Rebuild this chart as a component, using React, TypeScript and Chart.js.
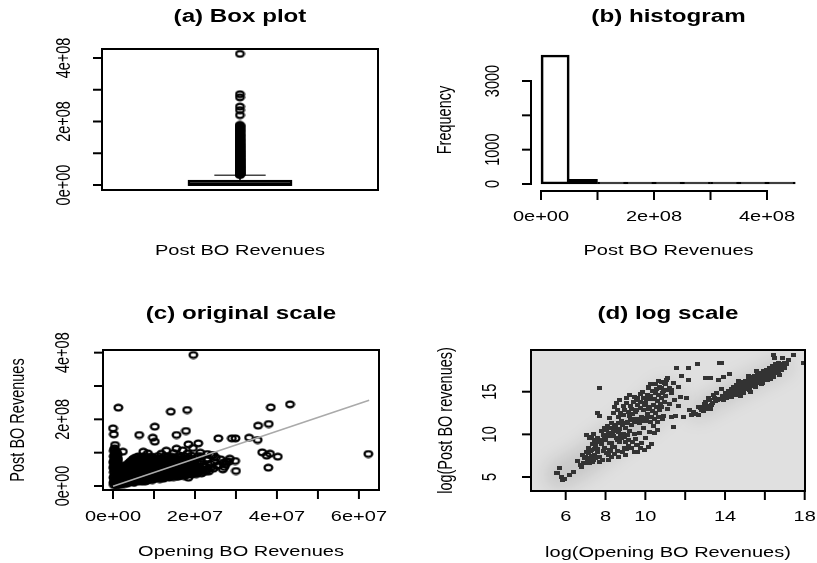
import React, { useEffect, useRef } from 'react';
import { Chart, registerables } from 'chart.js';

Chart.register(...registerables);

// ---------------- DATA ----------------
// (a) box plot of Post BO Revenues (millions)
const boxFiveNumber = [0, 0.5, 3, 12.5, 31]; // lower whisker, Q1, median, Q3, upper whisker
const boxOutliers = [32, 33, 34, 35, 36, 37.5, 39, 40, 41, 42.5, 44, 45, 46, 47.5, 49, 50.5, 52, 53.5, 55, 56, 57, 58.5, 60, 61.5, 63, 64.5, 66, 67.5, 69, 70.5, 72, 73.5, 75, 76.5, 78, 79.5, 81, 82.5, 84, 86, 88, 89.5, 91, 92.5, 94, 96, 98, 99.5, 101, 103, 105, 106.5, 108, 110, 112, 114, 116, 118, 120, 122, 124, 126, 128, 130, 132, 134.5, 137, 139, 141, 143.5, 146, 148.5, 151, 153.5, 156, 158.5, 161, 164, 167, 169.5, 172, 175, 178, 181, 184, 186.5, 189, 220, 236, 247, 276, 286, 413];
const boxYTicks = [0, 100, 200, 300, 400];
const boxYLabels = ['0e+00', '', '2e+08', '', '4e+08'];

// (b) histogram (bin edges in millions)
const histBinEdges = [0, 50, 100, 150, 200, 250, 300, 350, 400, 450];
const histCounts = [3758, 136, 30, 14, 4, 3, 0, 0, 1];
const histXTicks = [0, 100, 200, 300, 400];
const histXLabels = ['0e+00', '', '2e+08', '', '4e+08'];
const histYTicks = [0, 1000, 2000, 3000];
const histYLabels = ['0', '1000', '', '3000'];

// (c) original scale: [opening (millions), post (millions)]
const originalScalePoints: [number, number][] = [
  [0.2, 3], [0.9, 2], [1.6, 4],
  [0.5, 6], [1.2, 7], [2.0, 5], [2.7, 6], [3.4, 7],
  [0.1, 10], [0.8, 9], [1.5, 11], [2.3, 9], [3.1, 10], [4.0, 11], [5.0, 10],
  [0.3, 13], [1.0, 14], [1.9, 13], [2.7, 12], [3.5, 14], [4.4, 13], [5.3, 12], [6.2, 14], [7.1, 13], [7.9, 14],
  [0.4, 17], [1.2, 16], [2.0, 18], [2.9, 17], [3.8, 16], [4.7, 18], [5.6, 17], [6.5, 16], [7.4, 18], [8.5, 17], [9.6, 18],
  [0.6, 21], [1.5, 20], [2.4, 22], [3.3, 21], [4.2, 20], [5.1, 22], [6.0, 21], [6.9, 20], [7.8, 22], [8.7, 21], [9.6, 20], [10.5, 22], [11.4, 21], [12.3, 22],
  [0.1, 25], [0.9, 24], [1.7, 26], [2.6, 25], [3.5, 24], [4.4, 26], [5.3, 25], [6.2, 24], [7.1, 26], [8.0, 25], [8.9, 24], [9.8, 26], [10.7, 25], [11.6, 24], [12.6, 26], [13.7, 25], [14.8, 27], [15.9, 28],
  [0.3, 29], [1.2, 28], [2.1, 30], [3.0, 29], [3.9, 28], [4.8, 30], [5.7, 29], [6.6, 28], [7.5, 30], [8.4, 29], [9.3, 28], [10.2, 30], [11.1, 29], [12.0, 28], [12.9, 30], [13.8, 29], [14.7, 30], [15.6, 30], [16.5, 31], [17.4, 30],
  [0.5, 33], [1.3, 32], [2.2, 34], [3.1, 33], [4.0, 32], [4.9, 34], [5.8, 33], [6.7, 32], [7.6, 34], [8.5, 33], [9.4, 32], [10.3, 34], [11.2, 33], [12.1, 32], [13.0, 34], [13.9, 33], [14.8, 32], [15.7, 34], [16.6, 33], [17.5, 32], [18.4, 34], [19.3, 35], [20.3, 36],
  [0.7, 37], [1.6, 36], [2.5, 38], [3.4, 37], [4.3, 36], [5.2, 38], [6.1, 37], [7.0, 36], [7.9, 38], [8.8, 37], [9.7, 36], [10.6, 38], [11.5, 37], [12.4, 36], [13.3, 38], [14.2, 37], [15.1, 36], [16.0, 38], [16.9, 37], [17.8, 36], [18.7, 38], [19.6, 37], [20.6, 39], [21.6, 38],
  [0.2, 41], [1.0, 40], [1.9, 42], [2.8, 41], [3.7, 40], [4.6, 42], [5.5, 41], [6.4, 40], [7.3, 42], [8.2, 41], [9.1, 40], [10.0, 42], [10.9, 41], [11.8, 40], [12.7, 42], [13.6, 41], [14.5, 40], [15.4, 42], [16.3, 41], [17.2, 40], [18.1, 42], [19.0, 41], [19.9, 40], [20.9, 43], [22.0, 42], [23.4, 44],
  [0.3, 45], [1.2, 44], [2.1, 46], [3.0, 45], [3.9, 44], [4.8, 46], [5.7, 45], [6.6, 44], [7.5, 46], [8.4, 45], [9.3, 44], [10.2, 46], [11.1, 45], [12.0, 44], [12.9, 46], [13.8, 45], [14.7, 44], [15.6, 46], [16.5, 45], [17.4, 44], [18.3, 46], [19.2, 45], [20.1, 44], [21.2, 46], [22.8, 45],
  [0.6, 49], [1.4, 48], [2.3, 50], [3.3, 49], [4.3, 48], [5.2, 50], [6.1, 49], [7.0, 48], [7.9, 50], [8.8, 49], [9.7, 48], [10.6, 50], [11.5, 49], [12.4, 48], [13.3, 50], [14.2, 49], [15.1, 48], [16.0, 50], [16.9, 49], [17.8, 48], [18.7, 50], [19.6, 49], [20.6, 51], [21.8, 50], [24.5, 52], [26.8, 50],
  [0.2, 53], [1.1, 52], [2.0, 54], [2.9, 53], [3.8, 52], [4.7, 54], [5.6, 53], [6.5, 52], [7.4, 54], [8.3, 53], [9.2, 52], [10.1, 54], [11.0, 53], [11.9, 52], [12.8, 54], [13.7, 53], [14.6, 52], [15.5, 54], [16.4, 53], [17.3, 52], [18.2, 54], [19.1, 53], [20.0, 52], [21.0, 54], [23.2, 53],
  [0.1, 57], [0.9, 56], [1.8, 58], [3.0, 57], [4.1, 56], [5.0, 58], [5.9, 57], [6.8, 56], [7.7, 58], [8.6, 57], [9.5, 56], [10.4, 58], [11.3, 57], [12.2, 56], [13.1, 58], [14.0, 57], [14.9, 56], [15.8, 58], [16.7, 57], [17.6, 56], [18.5, 58], [19.4, 57], [20.4, 59], [22.6, 58], [25.3, 60],
  [0.5, 61], [1.3, 60], [2.2, 61], [3.3, 62], [4.4, 61], [5.3, 60], [6.2, 62], [7.1, 61], [8.0, 60], [8.9, 62], [9.8, 61], [10.7, 60], [11.6, 62], [12.5, 61], [13.4, 60], [14.3, 62], [15.2, 61], [16.1, 60], [17.0, 62], [17.9, 61], [18.8, 60], [19.7, 62], [21.9, 61],
  [0.4, 65], [1.2, 64], [3.6, 66], [4.6, 65], [5.5, 64], [6.4, 66], [7.3, 65], [8.2, 64], [9.1, 66], [10.0, 65], [10.9, 64], [11.8, 66], [12.7, 65], [13.6, 64], [14.5, 66], [15.4, 65], [16.3, 64], [17.2, 66], [18.1, 65], [19.0, 64], [20.0, 66], [21.2, 67], [23.8, 66], [27.5, 65],
  [0.2, 69], [1.0, 68], [4.0, 70], [4.9, 69], [5.8, 68], [6.7, 70], [7.6, 69], [8.5, 68], [9.4, 70], [10.3, 69], [11.2, 68], [12.1, 70], [13.0, 69], [13.9, 68], [14.8, 70], [15.7, 69], [16.6, 68], [17.5, 70], [18.4, 69], [19.3, 68], [20.5, 70],
  [0.1, 73], [0.9, 72], [4.3, 74], [5.1, 73], [6.0, 72], [6.9, 74], [7.8, 73], [8.7, 72], [9.6, 74], [10.5, 73], [11.4, 72], [12.3, 74], [13.2, 73], [14.1, 72], [15.0, 74], [15.9, 73], [16.8, 72], [17.7, 74], [18.6, 73], [19.6, 75], [21.5, 74], [24.8, 72], [28.3, 73],
  [0.4, 77], [1.1, 76], [4.7, 78], [5.6, 77], [6.5, 76], [7.4, 78], [8.3, 77], [9.2, 76], [10.1, 78], [11.0, 77], [11.9, 76], [12.8, 78], [13.7, 77], [14.6, 76], [15.5, 78], [16.4, 77], [17.3, 76], [18.2, 78], [19.2, 77],
  [0.5, 81], [1.2, 80], [5.0, 82], [6.0, 81], [7.0, 80], [8.2, 82], [9.3, 81], [10.4, 80], [11.4, 82], [12.5, 81], [13.5, 80], [14.6, 82], [15.7, 81], [16.8, 80], [17.9, 82], [19.0, 81], [20.2, 83], [23.0, 82], [26.3, 80],
  [0.3, 85], [1.0, 84], [5.6, 86], [6.8, 85], [8.0, 84], [9.0, 86], [10.0, 85], [11.9, 84], [13.2, 86], [14.0, 85], [15.2, 84], [16.4, 86], [18.5, 85],
  [0.2, 89], [0.9, 88], [6.2, 89], [7.8, 90], [9.4, 88], [11.0, 90], [12.6, 89], [14.3, 88], [15.9, 90], [17.5, 89], [19.1, 91], [20.8, 90], [24.0, 92],
  [0.4, 93], [1.0, 92], [0.5, 97], [1.1, 96], [8.5, 98], [11.8, 97], [14.8, 99], [18.2, 98], [21.3, 100],
  [0.7, 101], [0.2, 105], [0.8, 104], [13.0, 106], [17.0, 107], [0.3, 109], [0.4, 113], [15.5, 112], [19.5, 114],
  [22.5, 47], [23.9, 55], [25.8, 62], [26.9, 70], [28.5, 82], [22.9, 78], [25.1, 85], [27.2, 57], [21.6, 88], [23.0, 96],
  [19.6, 393], [1.3, 235], [14.1, 223], [18.1, 228], [0.0, 173], [0.2, 155], [10.2, 178], [6.4, 153], [9.7, 145], [15.5, 153], [17.8, 165], [10.2, 133], [25.7, 143], [29.0, 143], [0.5, 123], [2.4, 103], [7.4, 103], [18.4, 125], [20.8, 128], [18.4, 25], [27.7, 73], [30.0, 45], [24.5, 93],
  [38.5, 236], [43.2, 245], [35.4, 181], [38.0, 186], [33.2, 145], [35.3, 138], [29.9, 143], [36.4, 101], [38.3, 97], [37.5, 91], [40.2, 88], [37.9, 55], [29.8, 75], [62.3, 96],
];
const fitLineX = [0, 62.5];
const fitLineY = [-1, 257];
const origXTicks = [0, 10, 20, 30, 40, 50, 60];
const origXLabels = ['0e+00', '', '2e+07', '', '4e+07', '', '6e+07'];
const origYTicks = [0, 100, 200, 300, 400];
const origYLabels = ['0e+00', '', '2e+08', '', '4e+08'];

// (d) log scale: [log opening, log post]
const logScalePoints: [number, number][] = [
  [5.53, 5.51], [5.61, 5.43], [5.70, 6.02], [5.78, 5.04], [5.86, 4.65], [5.95, 4.77], [6.20, 5.23], [6.37, 5.62],
  [6.74, 6.37], [6.78, 6.21], [6.90, 6.60], [7.03, 6.60], [6.95, 7.19], [7.10, 7.10], [7.20, 7.19], [7.37, 6.79], [7.30, 7.50], [7.12, 7.78], [7.46, 7.58], [7.50, 7.20], [7.62, 7.97], [7.71, 7.38], [7.71, 6.79], [7.87, 7.00], [7.60, 8.30], [7.90, 8.10], [7.96, 8.36], [8.04, 7.78], [8.13, 7.00], [8.13, 7.58], [8.21, 8.17], [8.29, 7.38], [8.29, 8.95], [8.35, 8.50], [8.46, 8.55], [8.54, 9.54], [8.71, 9.14], [8.60, 9.30], [8.63, 10.31], [8.38, 10.51], [8.13, 10.12], [7.03, 9.92], [7.20, 9.54], [7.46, 9.34], [7.29, 9.72], [7.40, 10.10], [7.80, 10.40], [7.96, 10.71], [7.30, 8.20], [7.50, 8.60], [7.80, 8.90], [7.60, 9.60], [7.90, 9.90], [8.00, 9.30], [8.20, 9.00], [8.40, 9.80], [8.10, 11.00], [8.30, 11.30], [8.50, 10.90], [8.70, 10.60], [8.80, 11.60], [8.90, 12.30], [8.60, 12.80], [8.63, 12.07], [8.40, 12.50], [8.20, 11.90], [8.80, 9.60], [9.00, 9.10], [8.96, 8.36], [9.00, 7.60], [8.60, 8.00], [9.30, 8.40], [9.15, 8.60], [9.10, 9.90], [8.90, 10.10], [9.20, 10.40], [9.00, 10.80], [9.30, 11.10], [9.10, 11.50], [9.40, 11.80], [9.20, 12.20], [9.50, 12.60], [9.30, 13.00], [8.90, 13.30], [9.60, 13.40], [9.40, 13.80], [9.70, 10.20], [9.45, 10.00], [9.50, 9.50], [9.60, 8.70], [9.63, 7.97], [9.47, 7.96], [9.80, 9.00], [9.90, 10.70], [9.70, 11.30], [10.00, 11.60], [9.80, 12.00], [10.10, 12.40], [9.90, 12.90], [10.20, 13.20], [10.00, 13.70], [10.30, 14.10], [10.10, 14.60], [9.90, 14.30], [9.20, 14.60], [9.63, 14.23], [10.14, 15.40], [10.14, 15.60], [10.00, 9.60], [10.20, 10.30], [10.30, 8.90], [10.14, 8.55], [10.47, 10.12], [10.60, 10.50], [10.40, 11.00], [10.60, 11.40], [10.30, 12.00], [10.50, 12.50], [10.70, 12.90], [10.40, 13.50], [10.60, 13.90], [10.80, 14.30], [10.50, 14.80], [10.90, 15.10], [10.70, 15.60], [10.80, 15.40], [10.50, 15.90], [10.80, 16.17], [11.00, 15.90], [11.06, 16.37], [10.90, 12.10], [10.80, 13.24], [11.10, 13.00], [11.20, 13.60], [11.00, 14.50], [11.30, 14.90], [11.30, 15.20], [11.20, 15.40], [11.40, 16.00], [11.10, 16.60], [11.48, 14.02], [11.30, 12.07], [11.40, 10.90],
  [7.15, 8.45], [7.35, 8.85], [7.55, 9.10], [7.75, 9.35], [7.95, 9.60], [8.15, 9.85], [8.35, 10.15], [8.55, 10.40], [8.75, 10.05], [8.95, 9.70], [9.15, 9.35], [9.35, 9.05], [9.55, 8.80], [9.75, 8.45], [9.95, 8.20], [8.25, 8.05], [8.45, 7.65], [8.65, 7.30], [8.85, 7.95], [9.05, 8.25],
  [8.05, 10.55], [8.25, 10.70], [8.45, 11.05], [8.65, 11.30], [8.85, 11.10], [9.05, 11.35], [9.25, 11.70], [9.45, 11.50], [9.65, 11.85], [9.85, 11.60], [10.05, 11.90], [10.25, 11.45], [10.45, 11.75], [10.65, 12.05], [10.85, 11.80],
  [8.75, 12.55], [8.95, 12.85], [9.15, 12.60], [9.35, 12.35], [9.55, 12.85], [9.75, 13.10], [9.95, 13.40], [10.15, 13.00], [10.35, 12.70], [10.55, 13.20], [10.75, 13.55], [10.95, 13.80], [9.05, 13.70], [9.25, 13.35], [9.55, 14.00], [9.75, 13.75], [10.05, 14.20], [10.25, 14.45], [10.45, 14.20], [10.65, 14.60], [10.85, 14.85], [11.05, 15.20], [10.35, 15.05], [10.55, 15.30], [10.25, 15.95], [10.65, 16.30], [10.95, 16.00], [9.85, 15.00], [9.45, 14.40], [9.75, 14.75],
  [6.85, 7.55], [7.05, 7.90], [7.25, 8.00], [7.45, 8.25], [6.60, 6.85], [7.00, 7.35], [7.40, 6.95], [7.20, 6.60],
  [7.71, 15.47], [7.62, 12.47], [7.71, 12.19], [8.46, 13.24], [8.54, 13.64], [8.71, 14.03], [9.05, 14.23],
  [11.58, 17.81], [12.16, 17.81], [12.61, 18.21], [13.84, 18.33], [13.74, 18.40], [11.79, 16.88], [13.00, 16.57], [13.25, 16.57], [13.67, 16.37], [13.92, 16.76], [14.22, 17.04], [12.16, 16.37], [11.66, 15.59], [11.74, 14.41], [12.08, 14.22], [11.66, 13.36], [11.91, 12.07], [11.49, 12.19],
  [12.66, 12.27], [12.75, 13.05], [12.91, 13.24], [13.00, 13.83], [13.17, 14.23], [13.42, 14.61], [13.59, 14.81], [13.92, 14.03], [14.09, 14.23], [12.40, 12.60], [12.20, 12.90], [12.90, 12.70], [13.10, 13.00], [13.30, 13.50], [13.50, 13.90], [13.70, 14.20], [13.85, 14.50], [13.20, 14.00], [12.67, 13.24], [13.80, 15.30],
  [12.50, 12.40], [12.80, 12.90], [13.05, 13.30], [13.35, 13.70], [13.60, 14.05], [13.90, 14.35], [12.95, 13.60], [13.45, 14.25], [13.25, 12.95], [12.30, 12.25],
  [14.00, 14.30], [14.00, 14.90], [14.15, 14.60], [14.15, 15.10], [14.30, 14.40], [14.30, 14.90], [14.30, 15.30], [14.45, 14.70], [14.45, 15.20], [14.45, 15.60], [14.60, 14.90], [14.60, 15.40], [14.60, 15.80], [14.75, 14.80], [14.75, 15.50], [14.75, 16.00], [14.90, 15.10], [14.90, 15.60], [14.90, 16.10], [15.05, 15.30], [15.05, 15.80], [15.05, 16.30], [15.20, 15.50], [15.20, 16.00], [15.20, 16.50], [15.35, 15.70], [15.35, 16.20], [15.35, 16.70], [15.50, 15.90], [15.50, 16.40], [15.50, 16.80], [15.65, 16.00], [15.65, 16.50], [15.65, 17.00], [15.80, 16.30], [15.80, 16.80], [15.80, 17.20], [15.95, 16.40], [15.95, 16.90], [15.95, 17.40], [16.10, 16.60], [16.10, 17.10], [16.10, 17.60], [16.25, 16.80], [16.25, 17.30], [16.25, 17.80], [16.40, 17.00], [16.40, 17.50], [16.40, 18.00], [16.55, 17.20], [16.55, 17.70], [16.55, 18.20], [16.70, 17.40], [16.70, 17.90], [16.70, 18.40], [16.85, 17.60], [16.85, 18.10], [17.00, 17.80], [17.00, 18.40],
  [14.10, 14.45], [14.25, 15.05], [14.40, 14.95], [14.55, 15.10], [14.70, 15.25], [14.85, 15.40], [15.00, 15.55], [15.15, 15.75], [15.30, 15.95], [15.45, 16.15], [15.60, 16.30], [15.75, 16.55], [15.90, 16.70], [16.05, 16.85], [16.20, 17.05], [16.35, 17.25], [16.50, 17.45], [16.65, 17.65], [16.80, 17.85], [16.95, 18.05], [17.10, 18.20], [14.20, 14.75], [14.50, 15.45], [14.80, 15.80], [15.10, 16.15], [15.40, 16.45], [15.70, 16.75], [16.00, 17.15], [16.30, 17.45], [16.60, 17.95], [16.90, 18.25], [14.55, 14.60], [14.95, 14.85], [15.25, 15.25], [15.55, 15.55], [15.85, 15.85], [16.15, 16.35], [16.45, 16.70], [16.75, 17.00],
  [16.42, 19.30], [16.50, 19.00], [17.44, 19.30], [17.94, 18.33], [17.20, 18.70], [16.90, 18.90], [15.60, 17.40], [15.20, 16.90], [14.70, 16.30], [15.90, 16.00], [16.30, 16.50], [14.80, 14.50], [15.30, 15.00],
];
const densityRidgeLow: [number, number][] = [[5.7, 5.3], [6.9, 6.8], [8.0, 8.8], [9.2, 10.8], [10.3, 12.8], [11.0, 14.4]];
const densityRidgeHigh: [number, number][] = [[12.6, 12.8], [14.0, 14.6], [15.5, 16.4], [16.9, 18.1]];
const logXTicks = [6, 8, 10, 12, 14, 16, 18];
const logXLabels = ['6', '8', '10', '', '14', '', '18'];
const logYTicks = [5, 10, 15];
const logYLabels = ['5', '10', '15'];

// ---------------- STYLE ----------------
const FONT = '"Liberation Sans", Arial, Helvetica, sans-serif';
const SX = 1.38;
const FS = 14.5;
const TFS = 17.5;
const LW = 2;
const TICK = 9;

function drawText(ctx: CanvasRenderingContext2D, s: string, x: number, y: number, size: number, bold: boolean, vertical: boolean) {
  ctx.save();
  ctx.translate(x, y);
  ctx.scale(SX, 1);
  if (vertical) ctx.rotate(-Math.PI / 2);
  ctx.font = `${bold ? 'bold ' : ''}${size}px ${FONT}`;
  ctx.fillStyle = '#000';
  ctx.textAlign = 'center';
  ctx.textBaseline = 'middle';
  ctx.fillText(s, 0, 0);
  ctx.restore();
}

type AxisDef = { ticks: number[]; labels: string[]; labelPos: number };
type PanelDef = {
  title: string; titleY: number;
  xTitle: string; xTitleY: number;
  yTitle?: string; yTitleX?: number;
  xAxis?: AxisDef; yAxis?: AxisDef; box: boolean;
};

function rStyle(def: PanelDef) {
  return {
    id: 'rStyle',
    afterDraw(chart: any) {
      const ctx: CanvasRenderingContext2D = chart.ctx;
      const a = chart.chartArea;
      const xs = chart.scales.x;
      const ys = chart.scales.y;
      const seg = (x1: number, y1: number, x2: number, y2: number) => {
        ctx.beginPath(); ctx.moveTo(x1, y1); ctx.lineTo(x2, y2); ctx.stroke();
      };
      ctx.save();
      ctx.strokeStyle = '#000';
      ctx.lineWidth = LW;
      if (def.box) ctx.strokeRect(a.left, a.top, a.right - a.left, a.bottom - a.top);
      if (def.xAxis) {
        const ax = def.xAxis;
        const ps = ax.ticks.map((v) => xs.getPixelForValue(v));
        seg(ps[0] - LW / 2, a.bottom, ps[ps.length - 1] + LW / 2, a.bottom);
        ps.forEach((p, i) => {
          seg(p, a.bottom, p, a.bottom + TICK);
          if (ax.labels[i]) drawText(ctx, ax.labels[i], p, ax.labelPos, FS, false, false);
        });
      }
      if (def.yAxis) {
        const ay = def.yAxis;
        const ps = ay.ticks.map((v) => ys.getPixelForValue(v));
        seg(a.left, ps[0] + LW / 2, a.left, ps[ps.length - 1] - LW / 2);
        ps.forEach((p, i) => {
          seg(a.left, p, a.left - TICK, p);
          if (ay.labels[i]) drawText(ctx, ay.labels[i], ay.labelPos, p, FS, false, true);
        });
      }
      const cx = (a.left + a.right) / 2;
      const cy = (a.top + a.bottom) / 2;
      drawText(ctx, def.title, cx, def.titleY, TFS, true, false);
      drawText(ctx, def.xTitle, cx, def.xTitleY, FS, false, false);
      if (def.yTitle && def.yTitleX !== undefined) drawText(ctx, def.yTitle, def.yTitleX, cy, FS, false, true);
      ctx.restore();
    },
  };
}

function baseOptions(pad: any, xr: number[], yr: number[], xExtra: any = {}) {
  return {
    animation: false,
    responsive: false,
    maintainAspectRatio: false,
    devicePixelRatio: 1,
    events: [],
    layout: { padding: pad },
    plugins: { legend: { display: false }, tooltip: { enabled: false }, title: { display: false } },
    scales: {
      x: { type: 'linear', display: false, min: xr[0], max: xr[1], offset: false, ...xExtra },
      y: { type: 'linear', display: false, min: yr[0], max: yr[1] },
    },
  };
}

function ringImage() {
  const c = document.createElement('canvas');
  c.width = 11; c.height = 9;
  const g = c.getContext('2d')!;
  g.strokeStyle = '#000';
  g.lineWidth = 2.2;
  g.beginPath();
  g.ellipse(5.5, 4.5, 3.9, 2.9, 0, 0, Math.PI * 2);
  g.stroke();
  return c;
}

function squareImage() {
  const c = document.createElement('canvas');
  c.width = 5; c.height = 4;
  const g = c.getContext('2d')!;
  g.fillStyle = '#333333';
  g.fillRect(0, 0, 5, 4);
  return c;
}

// ---------------- PANELS ----------------
const boxCenter = 0.5;
const boxHalfWidth = 0.185;
const stapleHalfWidth = 0.093;

function buildBox(): any {
  const [lo, q1, med, q3, hi] = boxFiveNumber;
  const boxPlugin = {
    id: 'boxDraw',
    beforeDatasetsDraw(chart: any) {
      const ctx: CanvasRenderingContext2D = chart.ctx;
      const xs = chart.scales.x, ys = chart.scales.y;
      const xl = xs.getPixelForValue(boxCenter - boxHalfWidth);
      const xr = xs.getPixelForValue(boxCenter + boxHalfWidth);
      const xc = xs.getPixelForValue(boxCenter);
      const sl = xs.getPixelForValue(boxCenter - stapleHalfWidth);
      const sr = xs.getPixelForValue(boxCenter + stapleHalfWidth);
      const y = (v: number) => ys.getPixelForValue(v);
      ctx.save();
      ctx.strokeStyle = '#000';
      ctx.lineWidth = 1.5;
      ctx.setLineDash([4, 3]);
      ctx.beginPath(); ctx.moveTo(xc, y(q3)); ctx.lineTo(xc, y(hi)); ctx.stroke();
      ctx.beginPath(); ctx.moveTo(xc, y(q1)); ctx.lineTo(xc, y(lo)); ctx.stroke();
      ctx.setLineDash([]);
      ctx.strokeStyle = '#444';
      ctx.beginPath(); ctx.moveTo(sl, y(hi)); ctx.lineTo(sr, y(hi)); ctx.stroke();
      ctx.beginPath(); ctx.moveTo(sl, y(lo)); ctx.lineTo(sr, y(lo)); ctx.stroke();
      ctx.strokeStyle = '#000';
      ctx.fillStyle = '#fff';
      ctx.lineWidth = 2.2;
      ctx.fillRect(xl, y(q3), xr - xl, y(q1) - y(q3));
      ctx.strokeRect(xl, y(q3), xr - xl, y(q1) - y(q3));
      ctx.lineWidth = 3.5;
      ctx.beginPath(); ctx.moveTo(xl, y(med)); ctx.lineTo(xr, y(med)); ctx.stroke();
      ctx.restore();
    },
  };
  return {
    type: 'scatter',
    data: {
      datasets: [{
        data: boxOutliers.map((v) => ({ x: boxCenter, y: v })),
        pointStyle: ringImage(),
        pointRadius: 4,
      }],
    },
    options: baseOptions({ left: 102, right: 30, top: 49, bottom: 90 }, [0, 1], [-15.7, 428.3]),
    plugins: [boxPlugin, rStyle({
      title: '(a) Box plot', titleY: 17.5,
      xTitle: 'Post BO Revenues', xTitleY: 251,
      yAxis: { ticks: boxYTicks, labels: boxYLabels, labelPos: 64.5 },
      box: true,
    })],
  };
}

function buildHist(): any {
  const mids = histCounts.map((_, i) => (histBinEdges[i] + histBinEdges[i + 1]) / 2);
  return {
    type: 'bar',
    data: {
      datasets: [{
        data: mids.map((m, i) => ({ x: m, y: histCounts[i] })),
        backgroundColor: 'rgba(255,255,255,0)',
        borderColor: '#000',
        borderWidth: 2,
        borderSkipped: false,
        minBarLength: 2,
        base: -0.5,
        barPercentage: 1,
        categoryPercentage: 1,
      }],
    },
    options: baseOptions({ left: 123, right: 11, top: 49, bottom: 89 }, [-17.7, 469], [-204, 3932], { ticks: { includeBounds: false, stepSize: 50 } }),
    plugins: [rStyle({
      title: '(b) histogram', titleY: 17.5,
      xTitle: 'Post BO Revenues', xTitleY: 250.5,
      yTitle: 'Frequency', yTitleX: 37.5,
      xAxis: { ticks: histXTicks, labels: histXLabels, labelPos: 217 },
      yAxis: { ticks: histYTicks, labels: histYLabels, labelPos: 85 },
      box: false,
    })],
  };
}

function buildOriginal(): any {
  return {
    type: 'scatter',
    data: {
      datasets: [
        {
          data: fitLineX.map((x, i) => ({ x, y: fitLineY[i] })),
          showLine: true,
          borderColor: '#aaaaaa',
          borderWidth: 1.6,
          pointRadius: 0,
          order: 0,
        },
        {
          data: originalScalePoints.map(([x, y]) => ({ x, y })),
          pointStyle: ringImage(),
          pointRadius: 4,
          order: 1,
        },
      ],
    },
    options: baseOptions({ left: 103, right: 29, top: 70, bottom: 73 }, [-2.44, 64.9], [-12, 408]),
    plugins: [rStyle({
      title: '(c) original scale', titleY: 34.5,
      xTitle: 'Opening BO Revenues', xTitleY: 272,
      yTitle: 'Post BO Revenues', yTitleX: 18.5,
      xAxis: { ticks: origXTicks, labels: origXLabels, labelPos: 237 },
      yAxis: { ticks: origYTicks, labels: origYLabels, labelPos: 63.5 },
      box: true,
    })],
  };
}

function buildLog(): any {
  const bg = {
    id: 'densityBg',
    beforeDatasetsDraw(chart: any) {
      const ctx: CanvasRenderingContext2D = chart.ctx;
      const a = chart.chartArea;
      const xs = chart.scales.x, ys = chart.scales.y;
      ctx.save();
      ctx.beginPath();
      ctx.rect(a.left, a.top, a.right - a.left, a.bottom - a.top);
      ctx.clip();
      ctx.fillStyle = '#e0e0e0';
      ctx.fillRect(a.left, a.top, a.right - a.left, a.bottom - a.top);
      ctx.filter = 'blur(9px)';
      ctx.strokeStyle = 'rgba(0,0,0,0.11)';
      ctx.lineCap = 'round';
      ctx.lineJoin = 'round';
      [densityRidgeLow, densityRidgeHigh].forEach((path, k) => {
        ctx.lineWidth = k === 0 ? 30 : 18;
        ctx.beginPath();
        path.forEach(([x, y], i) => {
          const px = xs.getPixelForValue(x), py = ys.getPixelForValue(y);
          if (i === 0) ctx.moveTo(px, py); else ctx.lineTo(px, py);
        });
        ctx.stroke();
      });
      ctx.restore();
    },
  };
  return {
    type: 'scatter',
    data: {
      datasets: [{
        data: logScalePoints.map(([x, y]) => ({ x, y })),
        pointStyle: squareImage(),
        pointRadius: 2.5,
      }],
    },
    options: baseOptions({ left: 123, right: 12, top: 70, bottom: 72 }, [4.258, 18.015], [3.36, 19.89]),
    plugins: [bg, rStyle({
      title: '(d) log scale', titleY: 34.5,
      xTitle: 'log(Opening BO Revenues)', xTitleY: 273,
      yTitle: 'log(Post BO revenues)', yTitleX: 38.5,
      xAxis: { ticks: logXTicks, labels: logXLabels, labelPos: 237 },
      yAxis: { ticks: logYTicks, labels: logYLabels, labelPos: 82.5 },
      box: true,
    })],
  };
}

function Panel({ left, top, width, height, build }: { left: number; top: number; width: number; height: number; build: () => any }) {
  const ref = useRef<HTMLCanvasElement>(null);
  useEffect(() => {
    const chart = new Chart(ref.current as HTMLCanvasElement, build());
    return () => chart.destroy();
  }, []);
  return (
    <canvas
      ref={ref}
      width={width}
      height={height}
      style={{ position: 'absolute', left, top, width, height, display: 'block' }}
    />
  );
}

export default function App() {
  return (
    <div style={{ position: 'fixed', left: 0, top: 0, width: 817, height: 563, background: '#fff', overflow: 'hidden' }}>
      <Panel left={0} top={0} width={408} height={280} build={buildBox} />
      <Panel left={408} top={0} width={409} height={280} build={buildHist} />
      <Panel left={0} top={280} width={408} height={283} build={buildOriginal} />
      <Panel left={408} top={280} width={409} height={283} build={buildLog} />
    </div>
  );
}
